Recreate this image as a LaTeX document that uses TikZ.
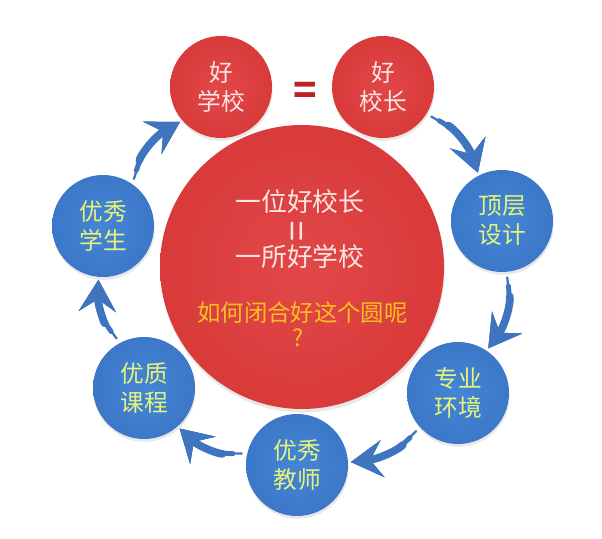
\documentclass[tikz,border=0pt]{standalone}
\usepackage{fontspec}
\setmainfont{Noto Sans CJK SC}
\usetikzlibrary{arrows.meta,shadows}
\definecolor{rojoc}{HTML}{E24848}
\definecolor{rojo}{HTML}{D63636}
\definecolor{rojob}{HTML}{BB2325}
\definecolor{azulc}{HTML}{4585D6}
\definecolor{azul}{HTML}{3A74C4}
\definecolor{azulb}{HTML}{2B5CA8}
\definecolor{azulf}{HTML}{3F74BE}
\definecolor{rosa}{HTML}{FCE6E4}
\definecolor{lima}{HTML}{E6F57A}
\definecolor{oro}{HTML}{F7C01E}
\pgfdeclareradialshading{rojobola}{\pgfpoint{0bp}{0bp}}{color(0bp)=(rojoc); color(32bp)=(rojo); color(50bp)=(rojob)}
\pgfdeclareradialshading{azulbola}{\pgfpoint{0bp}{0bp}}{color(0bp)=(azulc); color(32bp)=(azul); color(50bp)=(azulb)}
\tikzset{
  bola/.style={circle, minimum size=2.04cm, inner sep=0pt, align=center,
               font=\fontsize{13.5}{16.5}\selectfont,
               drop shadow={opacity=0.18, shadow xshift=0.4pt, shadow yshift=-1.6pt}},
  bolaroja/.style={bola, shading=rojobola, text=rosa},
  bolaazul/.style={bola, shading=azulbola, text=lima},
  centro/.style={circle, minimum size=5.68cm, inner sep=0pt, shading=rojobola,
                 drop shadow={opacity=0.18, shadow xshift=0.4pt, shadow yshift=-2pt}},
  lema/.style={font=\fontsize{14.7}{17}\selectfont, text=rosa, inner sep=0pt},
  duda/.style={font=\fontsize{13.3}{16}\selectfont, text=oro, inner sep=0pt},
  punta/.style={-{Stealth[length=18pt,width=21pt,inset=7pt]}},
  giro/.style={draw=azulf, line width=1.3pt, line cap=round, punta, shorten <=3pt, shorten >=1.5pt,
               preaction={draw=azulf, line width=2.8pt, line cap=round, punta, shorten <=8pt, shorten >=1.5pt},
               preaction={draw=azulf, line width=4.4pt, line cap=round, punta, shorten <=14pt, shorten >=1.5pt}}
}
\begin{document}
\begin{tikzpicture}
\useasboundingbox (0,0) rectangle (12.04,-10.78);

\node[centro] (grande) at (6.04,-5.34) {};
\node[lema] (frase1) at (6.00,-4.04) {一位好校长};
\node[lema, font=\fontsize{21}{21}\selectfont] (igual2) at (6.02,-4.62) {\rotatebox{90}{=}};
\node[lema] (frase2) at (6.00,-5.14) {一所好学校};
\node[duda] (pregunta) at (6.05,-6.26) {如何闭合好这个圆呢};
\node[duda] (signo) at (5.96,-6.76) {?};

\node[bolaroja] (haoxuexiao) at (4.42,-1.74) {好\\学校};
\node[bolaroja] (haoxiaozhang) at (7.66,-1.74) {好\\校长};
\node[font=\fontsize{22}{22}\selectfont\bfseries, text=rojob, inner sep=0pt] (igual) at (6.10,-1.86) {=};

\node[bolaazul] (dingceng) at (10.04,-4.42) {顶层\\设计};
\node[bolaazul] (zhuanye) at (9.16,-7.86) {专业\\环境};
\node[bolaazul] (jiaoshi) at (5.94,-9.30) {优秀\\教师};
\node[bolaazul] (kecheng) at (2.88,-7.76) {优质\\课程};
\node[bolaazul] (xuesheng) at (2.06,-4.52) {优秀\\学生};

\draw[giro] (xuesheng.55) to[bend left=22] (haoxuexiao.221);
\draw[giro] (haoxiaozhang.328) to[bend left=22] (dingceng.117);
\draw[giro] (dingceng.275) to[bend left=22] (zhuanye.56);
\draw[giro] (zhuanye.222) to[bend left=20] (jiaoshi.3);
\draw[giro] (jiaoshi.167) to[bend left=22] (kecheng.311);
\draw[giro] (kecheng.118) to[bend left=20] (xuesheng.265);
\end{tikzpicture}
\end{document}
